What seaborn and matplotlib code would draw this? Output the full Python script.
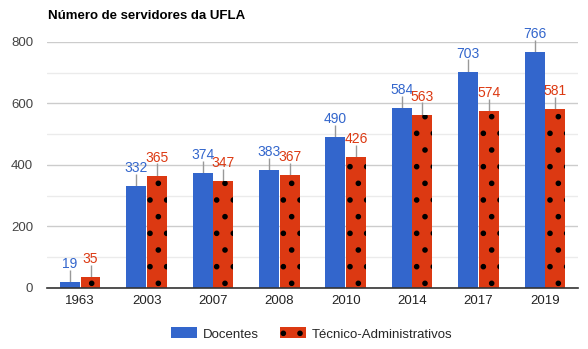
import matplotlib
matplotlib.use("Agg")
import matplotlib.pyplot as plt
import seaborn as sns
import pandas as pd
from matplotlib.patches import Patch

anos = ["1963", "2003", "2007", "2008", "2010", "2014", "2017", "2019"]
docentes = [19, 332, 374, 383, 490, 584, 703, 766]
tecnicos = [35, 365, 347, 367, 426, 563, 574, 581]
series = ["Docentes", "Técnico-Administrativos"]
cores = ["#3366CC", "#DC3912"]

df = pd.DataFrame({
    "Ano": anos * 2,
    "Valor": docentes + tecnicos,
    "Tipo": [series[0]] * len(anos) + [series[1]] * len(anos),
})

sns.set_theme(style="white")
plt.rcParams["font.family"] = ["Liberation Sans", "DejaVu Sans"]
plt.rcParams["hatch.color"] = "black"
plt.rcParams["hatch.linewidth"] = 1.6

fig = plt.figure(figsize=(5.88, 3.49), dpi=100)
ax = fig.add_axes([0.080, 0.175, 0.903, 0.705])

sns.barplot(data=df, x="Ano", y="Valor", hue="Tipo", palette=cores,
            width=0.62, gap=0.03, saturation=1, ax=ax, legend=False,
            zorder=3)

# dotted pattern on the second series
for bar in ax.containers[1]:
    bar.set_hatch(".")
    bar.set_edgecolor("black")
    bar.set_linewidth(0)
for bar in ax.containers[0]:
    bar.set_linewidth(0)

ax.set_xlim(-0.5, len(anos) - 0.5)
ax.set_ylim(0, 800)
ax.set_yticks([0, 200, 400, 600, 800])
ax.set_yticks([100, 300, 500, 700], minor=True)
ax.grid(axis="y", which="major", color="#CCCCCC", linewidth=1, zorder=0)
ax.grid(axis="y", which="minor", color="#EBEBEB", linewidth=1, zorder=0)
ax.set_axisbelow(True)
for s in ["top", "right", "left"]:
    ax.spines[s].set_visible(False)
ax.spines["bottom"].set_color("#333333")
ax.spines["bottom"].set_linewidth(1.2)
ax.spines["bottom"].set_zorder(4)
ax.tick_params(axis="both", which="both", length=0, labelsize=9.5,
               colors="#222222")
ax.tick_params(axis="y", pad=10, labelcolor="#444444")
ax.tick_params(axis="x", pad=5)
ax.set_xlabel("")
ax.set_ylabel("")

# value labels with stems
for cont, vals, cor in zip(ax.containers, [docentes, tecnicos], cores):
    for bar, v in zip(cont, vals):
        xc = bar.get_x() + bar.get_width() / 2
        ax.vlines(xc, v, v + 40, color="#999999", linewidth=1,
                  zorder=2, clip_on=False)
        ax.text(xc, v + 36, str(v), ha="center", va="bottom",
                color=cor, fontsize=10, clip_on=False, zorder=5)

fig.text(0.082, 0.955, "Número de servidores da UFLA", fontsize=9.5,
         fontweight="bold", color="#000000", ha="left", va="center")

handles = [Patch(facecolor=cores[0], edgecolor="none"),
           Patch(facecolor=cores[1], edgecolor="black", linewidth=0,
                 hatch=".")]
fig.legend(handles, series, loc="center", bbox_to_anchor=(0.53, 0.043),
           ncol=2, frameon=False, fontsize=9.5, handlelength=2.0,
           handleheight=0.9, columnspacing=1.6, handletextpad=0.4)

fig.savefig("out.png", dpi=100)
